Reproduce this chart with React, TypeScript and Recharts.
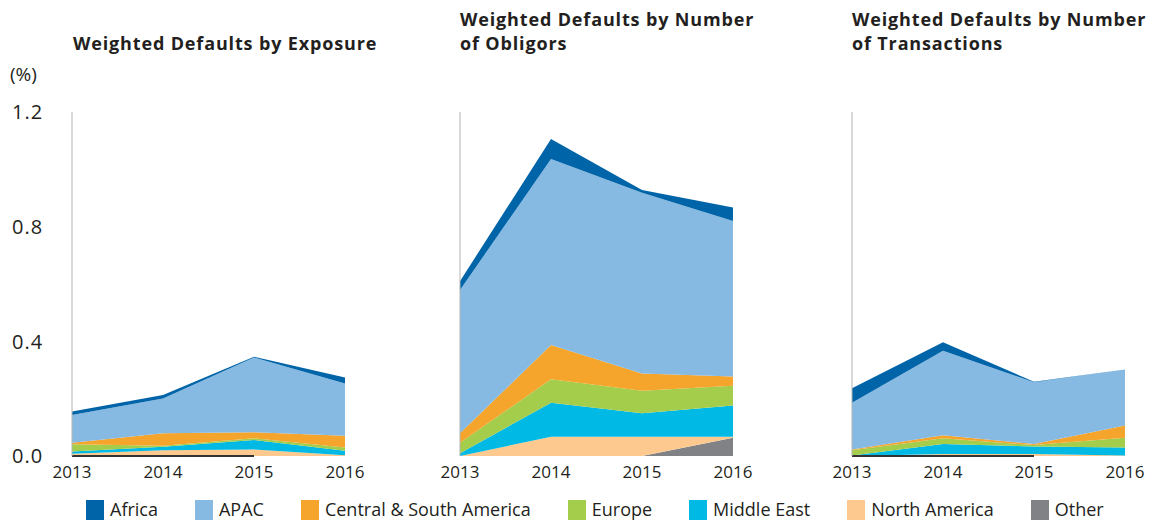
import { Area, AreaChart, XAxis, YAxis, ReferenceLine } from "recharts"

const years = ["2013", "2014", "2015", "2016"]
const yTicks = [0, 0.4, 0.8, 1.2]

const seriesNames = ["Other", "North America", "Middle East", "Europe", "Central & South America", "APAC", "Africa"]
const legendOrder = ["Africa", "APAC", "Central & South America", "Europe", "Middle East", "North America", "Other"]
const colors: Record<string, string> = {
  Africa: "#0064a8",
  APAC: "#86bae3",
  "Central & South America": "#f5a42c",
  Europe: "#a4cd4c",
  "Middle East": "#00b9e4",
  "North America": "#fdc98e",
  Other: "#808285",
}

// by exposure
const expAfrica = [0.012, 0.012, 0.002, 0.021]
const expApac = [0.097, 0.122, 0.261, 0.182]
const expCsa = [0.005, 0.043, 0.021, 0.041]
const expEurope = [0.025, 0.004, 0.006, 0.012]
const expMiddleEast = [0.008, 0.012, 0.033, 0.015]
const expNorthAmerica = [0.008, 0.02, 0.023, 0.003]
const expOther = [0, 0, 0, 0]

// by number of obligors
const oblAfrica = [0.031, 0.07, 0.01, 0.047]
const oblApac = [0.5, 0.649, 0.63, 0.543]
const oblCsa = [0.033, 0.119, 0.06, 0.032]
const oblEurope = [0.036, 0.082, 0.079, 0.069]
const oblMiddleEast = [0.01, 0.119, 0.082, 0.109]
const oblNorthAmerica = [0, 0.067, 0.067, 0.003]
const oblOther = [0, 0, 0, 0.064]

// by number of transactions
const trnAfrica = [0.05, 0.03, 0.002, 0]
const trnApac = [0.163, 0.295, 0.215, 0.196]
const trnCsa = [0.003, 0.01, 0.004, 0.042]
const trnEurope = [0.018, 0.02, 0.005, 0.034]
const trnMiddleEast = [0.002, 0.035, 0.026, 0.028]
const trnNorthAmerica = [0, 0.007, 0.007, 0.002]
const trnOther = [0, 0, 0, 0]

function build(cols: number[][]) {
  // cols ordered like seriesNames
  return years.map((year, i) => {
    const row: Record<string, string | number> = { year }
    seriesNames.forEach((name, k) => {
      row[name] = cols[k][i]
    })
    return row
  })
}

const exposureData = build([expOther, expNorthAmerica, expMiddleEast, expEurope, expCsa, expApac, expAfrica])
const obligorData = build([oblOther, oblNorthAmerica, oblMiddleEast, oblEurope, oblCsa, oblApac, oblAfrica])
const transactionData = build([trnOther, trnNorthAmerica, trnMiddleEast, trnEurope, trnCsa, trnApac, trnAfrica])

const font = "'Open Sans', sans-serif"
const PLOT_W = 273
const CHART_H = 490

function Panel({
  data,
  plotLeft,
  showTicks,
  baseline,
}: {
  data: Record<string, string | number>[]
  plotLeft: number
  showTicks: boolean
  baseline: boolean
}) {
  const axisW = showTicks ? plotLeft : 40
  const left = plotLeft - axisW
  const width = axisW + PLOT_W + 24
  const YTick = (props: any) => (
    <text x={12 - left} y={props.y} dy="0.36em" fill="#231f20" fontSize={20} letterSpacing={1} fontFamily={font}>
      {Number(props.payload.value).toFixed(1)}
    </text>
  )
  return (
    <div style={{ position: "absolute", left, top: 0 }}>
      <AreaChart width={width} height={CHART_H} data={data} margin={{ top: 112, right: 24, bottom: 0, left: 0 }}>
        <XAxis
          dataKey="year"
          axisLine={false}
          tickLine={false}
          interval={0}
          height={34}
          tick={{ fill: "#231f20", fontSize: 17, fontFamily: font }}
          dy={2}
        />
        <YAxis
          domain={[0, 1.2]}
          ticks={yTicks}
          width={axisW}
          axisLine={{ stroke: "#b3b3b3", strokeWidth: 1 }}
          tickLine={false}
          tick={showTicks ? <YTick /> : false}
        />
        {seriesNames.map((name) => (
          <Area
            key={name}
            type="linear"
            dataKey={name}
            stackId="s"
            stroke="none"
            fill={colors[name]}
            fillOpacity={1}
            isAnimationActive={false}
          />
        ))}
        {baseline && (
          <ReferenceLine
            segment={[
              { x: "2013", y: 0 },
              { x: "2015", y: 0 },
            ]}
            stroke="#333"
            strokeWidth={2}
          />
        )}
      </AreaChart>
    </div>
  )
}

const titleStyle: React.CSSProperties = {
  position: "absolute",
  fontFamily: font,
  fontWeight: 700,
  fontSize: 18,
  letterSpacing: 0.85,
  lineHeight: "24px",
  color: "#231f20",
  margin: 0,
  whiteSpace: "nowrap",
}

export default function App() {
  return (
    <div style={{ position: "absolute", left: 0, top: 0, width: 1151, height: 520, background: "#fff", overflow: "hidden" }}>
      <div style={{ ...titleStyle, left: 73, top: 31 }}>Weighted Defaults by Exposure</div>
      <div style={{ ...titleStyle, left: 460, top: 7 }}>
        Weighted Defaults by Number
        <br />
        of Obligors
      </div>
      <div style={{ ...titleStyle, left: 852, top: 7 }}>
        Weighted Defaults by Number
        <br />
        of Transactions
      </div>
      <div style={{ position: "absolute", left: 10, top: 62, fontFamily: font, fontSize: 19, lineHeight: "24px", color: "#231f20" }}>
        (%)
      </div>

      <Panel data={exposureData} plotLeft={72} showTicks baseline />
      <Panel data={obligorData} plotLeft={460} showTicks={false} baseline={false} />
      <Panel data={transactionData} plotLeft={852} showTicks={false} baseline />

      <div
        style={{
          position: "absolute",
          left: 86,
          top: 499,
          display: "flex",
          alignItems: "center",
          fontFamily: font,
          fontSize: 18,
          lineHeight: "21px",
          color: "#231f20",
          whiteSpace: "nowrap",
        }}
      >
        {legendOrder.map((name) => (
          <div key={name} style={{ display: "flex", alignItems: "center", marginRight: 37 }}>
            <span style={{ display: "inline-block", width: 18, height: 20, background: colors[name], marginRight: 6 }} />
            <span>{name}</span>
          </div>
        ))}
      </div>
    </div>
  )
}
